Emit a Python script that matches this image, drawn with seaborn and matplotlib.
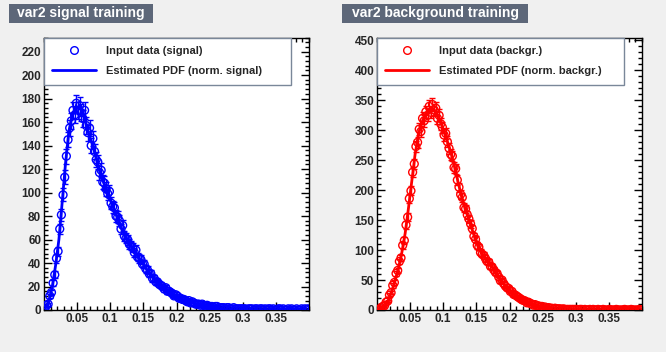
import numpy as np
import pandas as pd
import matplotlib
matplotlib.use("Agg")
import matplotlib.pyplot as plt
from matplotlib.lines import Line2D
from matplotlib.patches import Rectangle
from matplotlib.ticker import MultipleLocator
import seaborn as sns

# var2 range; histogram has 160 bins, the PDF is sampled on 80 points
x_lo, x_hi = 0.0, 0.4
n_hist, n_pdf = 160, 80
tail_start = 0.26  # PDF tail drawn in black near zero

# signal: histogram contents and estimated PDF
sig_data = [0, 4, 5, 12, 15, 23, 30, 44, 50, 69,
            81, 98, 113, 131, 145, 155, 161, 170, 166, 176,
            170, 174, 168, 163, 170, 157, 151, 155, 140, 146,
            135, 128, 126, 117, 119, 109, 108, 103, 99, 101,
            91, 88, 87, 80, 79, 76, 69, 72, 63, 61,
            60, 56, 55, 53, 49, 51, 45, 44, 43, 39,
            39, 35, 34, 31, 31, 27, 27, 24, 24, 22,
            21, 20, 18, 19, 16, 16, 15, 14, 12, 13,
            12, 10, 10, 9, 9, 8, 7, 8, 6, 7,
            6, 5, 5, 5, 4, 5, 4, 3, 4, 3,
            3, 3, 2, 3, 3, 2, 2, 2, 2, 1,
            2, 2, 1, 1, 2, 1, 1, 1, 1, 1,
            1, 1, 0, 1, 1, 1, 0, 1, 1, 0,
            1, 1, 0, 1, 0, 1, 1, 0, 1, 0,
            0, 1, 1, 0, 1, 0, 0, 1, 0, 1,
            0, 0, 1, 0, 0, 1, 0, 1, 0, 1]
sig_pdf = [2, 8, 20, 38, 60, 92, 125, 152, 166, 172,
           173, 170, 160, 150, 142, 132, 121, 112, 105, 97,
           90, 83, 76, 69, 62, 58, 53.5, 49, 45, 41,
           36.5, 32.5, 29, 26, 23, 20.5, 18.5, 16.5, 14.5, 12.5,
           11, 9.5, 8.3, 7.3, 6.4, 5.6, 4.9, 4.3, 3.8, 3.3,
           2.9, 2.6, 2.3, 2.0, 1.8, 1.6, 1.4, 1.3, 1.2, 1.1,
           1.0, 0.9, 0.9, 0.8, 0.8, 0.7, 0.7, 0.7, 0.6, 0.6,
           0.6, 0.5, 0.5, 0.5, 0.5, 0.5, 0.4, 0.4, 0.4, 0.4]

# background
bkg_data = [0, 1, 4, 6, 7, 13, 15, 25, 29, 41,
            46, 61, 66, 81, 87, 108, 116, 142, 155, 186,
            199, 230, 244, 273, 280, 302, 298, 320, 316, 331,
            325, 340, 330, 343, 334, 337, 320, 325, 311, 305,
            292, 295, 281, 270, 260, 257, 238, 236, 217, 205,
            193, 188, 171, 169, 159, 152, 144, 136, 123, 118,
            108, 105, 96, 93, 91, 86, 81, 80, 73, 72,
            67, 63, 61, 55, 49, 50, 44, 40, 37, 36,
            31, 31, 26, 25, 23, 21, 19, 17, 16, 15,
            12, 13, 11, 10, 8, 9, 7, 7, 5, 6,
            4, 5, 3, 4, 3, 3, 2, 3, 2, 2,
            2, 1, 2, 1, 1, 1, 1, 1, 1, 1,
            1, 0, 1, 1, 0, 1, 0, 0, 1, 0,
            1, 0, 0, 1, 0, 0, 1, 0, 0, 0,
            1, 0, 0, 0, 1, 0, 0, 0, 0, 1,
            0, 0, 0, 1, 0, 0, 0, 0, 1, 0]
bkg_pdf = [1, 3, 8, 17, 32, 50, 70, 96, 128, 170,
           215, 260, 293, 313, 325, 333, 337, 333, 322, 309,
           294, 277, 259, 237, 213, 190, 171, 155, 138, 121,
           106, 96, 88, 80, 73, 66, 58, 49, 42, 37,
           31, 26, 22, 18, 15, 12.5, 10.5, 8.5, 7, 5.5,
           4.5, 3.6, 3, 2.5, 2, 1.7, 1.4, 1.2, 1.0, 0.9,
           0.8, 0.7, 0.6, 0.6, 0.5, 0.5, 0.4, 0.4, 0.4, 0.3,
           0.3, 0.3, 0.3, 0.2, 0.2, 0.2, 0.2, 0.2, 0.2, 0.2]

xtick_vals = [0.05, 0.1, 0.15, 0.2, 0.25, 0.3, 0.35]
xtick_labels = ["0.05", "0.1", "0.15", "0.2", "0.25", "0.3", "0.35"]

panels = [
    dict(title="var2 signal training", data=sig_data, pdf=sig_pdf, color="#0000ff",
         ymax=232, major=20, minor=4,
         labels=["Input data (signal)", "Estimated PDF (norm. signal)"]),
    dict(title="var2 background training", data=bkg_data, pdf=bkg_pdf, color="#ff0000",
         ymax=455, major=50, minor=10,
         labels=["Input data (backgr.)", "Estimated PDF (norm. backgr.)"]),
]

sns.set_style("ticks")
plt.rcParams["font.family"] = ["Liberation Sans", "DejaVu Sans"]
plt.rcParams["font.weight"] = "bold"

W, H = 666, 352
fig = plt.figure(figsize=(W / 100, H / 100), dpi=100, facecolor="#f0f0f0")


def bin_centers(n):
    e = np.linspace(x_lo, x_hi, n + 1)
    return 0.5 * (e[:-1] + e[1:])


ax_left = [44, 377]
box_x = [(9, 153), (342, 528)]

for p, left, (bx0, bx1) in zip(panels, ax_left, box_x):
    ax = fig.add_axes([left / W, 1 - 310 / H, 265 / W, 272.5 / H])
    ax.set_facecolor("white")
    hist = pd.DataFrame({"x": bin_centers(n_hist), "y": p["data"]})
    pdf = pd.DataFrame({"x": bin_centers(n_pdf), "y": p["pdf"]})
    err = 0.55 * np.sqrt(hist["y"].to_numpy())

    ax.errorbar(hist["x"], hist["y"], yerr=err, fmt="none", ecolor=p["color"],
                elinewidth=1, capsize=2, capthick=1, zorder=2)
    sns.lineplot(data=pdf[pdf["x"] >= tail_start], x="x", y="y", ax=ax,
                 color="black", lw=2.2, zorder=2.5, legend=False)
    sns.scatterplot(data=hist, x="x", y="y", ax=ax, marker="o", s=32,
                    facecolors="none", edgecolor=p["color"], linewidth=1,
                    zorder=3, legend=False)
    sns.lineplot(data=pdf[pdf["x"] < tail_start + 0.005], x="x", y="y", ax=ax,
                 color=p["color"], lw=2, zorder=4, legend=False)

    ax.set_xlim(x_lo, x_hi)
    ax.set_ylim(0, p["ymax"])
    ax.set_xlabel("")
    ax.set_ylabel("")
    ax.set_xticks(xtick_vals, xtick_labels)
    ax.xaxis.set_minor_locator(MultipleLocator(0.01))
    ax.yaxis.set_major_locator(MultipleLocator(p["major"]))
    ax.yaxis.set_minor_locator(MultipleLocator(p["minor"]))
    ax.tick_params(which="both", direction="in", top=True, right=True,
                   width=1, color="black", labelsize=8.5, pad=2)
    ax.tick_params(which="major", length=6)
    ax.tick_params(which="minor", length=3)
    for lab in ax.get_xticklabels() + ax.get_yticklabels():
        lab.set_fontweight("bold")
    for s in ax.spines.values():
        s.set_color("black")
        s.set_linewidth(1)

    handles = [
        Line2D([], [], marker="o", ls="none", mfc="none", mec=p["color"], ms=5.5, mew=1),
        Line2D([], [], color=p["color"], lw=2),
    ]
    leg = ax.legend(handles, p["labels"], loc="upper left",
                    bbox_to_anchor=(0, 0.822, 0.932, 0.178), mode="expand",
                    borderaxespad=0, fancybox=False, framealpha=1,
                    edgecolor="#7a8799", handlelength=3.9,
                    handletextpad=0.9, labelspacing=0.95, borderpad=0.75,
                    prop={"weight": "bold", "size": 8})
    leg.get_frame().set_linewidth(1)
    leg.set_zorder(10)

    # title box
    fig.patches.append(Rectangle((bx0 / W, 1 - 23 / H), (bx1 - bx0) / W, 19 / H,
                                 transform=fig.transFigure, facecolor="#5d6779",
                                 edgecolor="none"))
    fig.text((bx0 + bx1) / 2 / W, 1 - 13.5 / H, p["title"], color="white",
             fontsize=10, fontweight="bold", ha="center", va="center")

fig.savefig("out.png", dpi=100, facecolor=fig.get_facecolor())
